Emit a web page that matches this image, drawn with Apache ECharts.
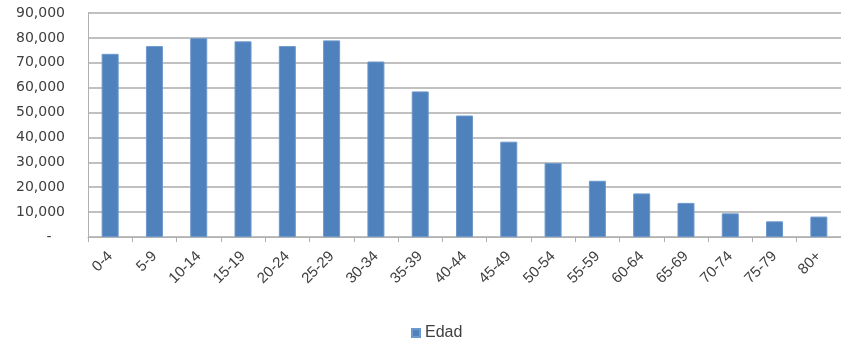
<!DOCTYPE html>
<html>
<head>
<meta charset="utf-8">
<script src="https://cdn.jsdelivr.net/npm/echarts@6/dist/echarts.min.js"></script>
<style>
  html, body { margin: 0; padding: 0; background: #fff; }
  #chart-container { width: 841px; height: 345px; }
</style>
</head>
<body>
<div id="chart-container"></div>
<script>
// Age groups (x axis)
const ageGroups = ["0-4", "5-9", "10-14", "15-19", "20-24", "25-29", "30-34", "35-39",
  "40-44", "45-49", "50-54", "55-59", "60-64", "65-69", "70-74", "75-79", "80+"];
// Population per age group
const edadValues = [73600, 76700, 79900, 78600, 76700, 79000, 70500, 58500,
  48800, 38300, 29700, 22600, 17500, 13700, 9500, 6300, 8200];

const chart = echarts.init(document.getElementById("chart-container"));

const option = {
  animation: false,
  grid: { left: 88, right: -4, top: 13, bottom: 108 },
  legend: {
    data: ["Edad"],
    left: 406,
    top: 320,
    icon: "rect",
    itemWidth: 8,
    itemHeight: 8,
    itemGap: 5,
    textStyle: { fontFamily: "Liberation Sans Narrow, Liberation Sans", fontSize: 16, color: "#404040" }
  },
  xAxis: {
    type: "category",
    data: ageGroups,
    axisLine: { lineStyle: { color: "#b0b0b0", width: 1 } },
    axisTick: { show: true, length: 5, lineStyle: { color: "#b0b0b0" } },
    axisLabel: {
      rotate: 45,
      margin: 17,
      interval: 0,
      fontFamily: "Liberation Sans Narrow, Liberation Sans",
      fontSize: 15,
      color: "#404040"
    }
  },
  yAxis: {
    type: "value",
    min: 0,
    max: 90000,
    interval: 10000,
    axisLine: { show: true, lineStyle: { color: "#b0b0b0" } },
    axisTick: { show: false },
    splitLine: { lineStyle: { color: "#c0c0c0", width: 2 } },
    axisLabel: {
      margin: 23,
      fontFamily: "DejaVu Sans",
      fontSize: 14,
      color: "#404040",
      formatter: (v) => (v === 0 ? "-   " : v.toLocaleString("en-US"))
    }
  },
  series: [
    {
      name: "Edad",
      type: "bar",
      data: edadValues,
      barWidth: 17,
      itemStyle: { color: "#4f81bd", borderColor: "#6c98cc", borderWidth: 1 }
    }
  ]
};

chart.setOption(option);
</script>
</body>
</html>
